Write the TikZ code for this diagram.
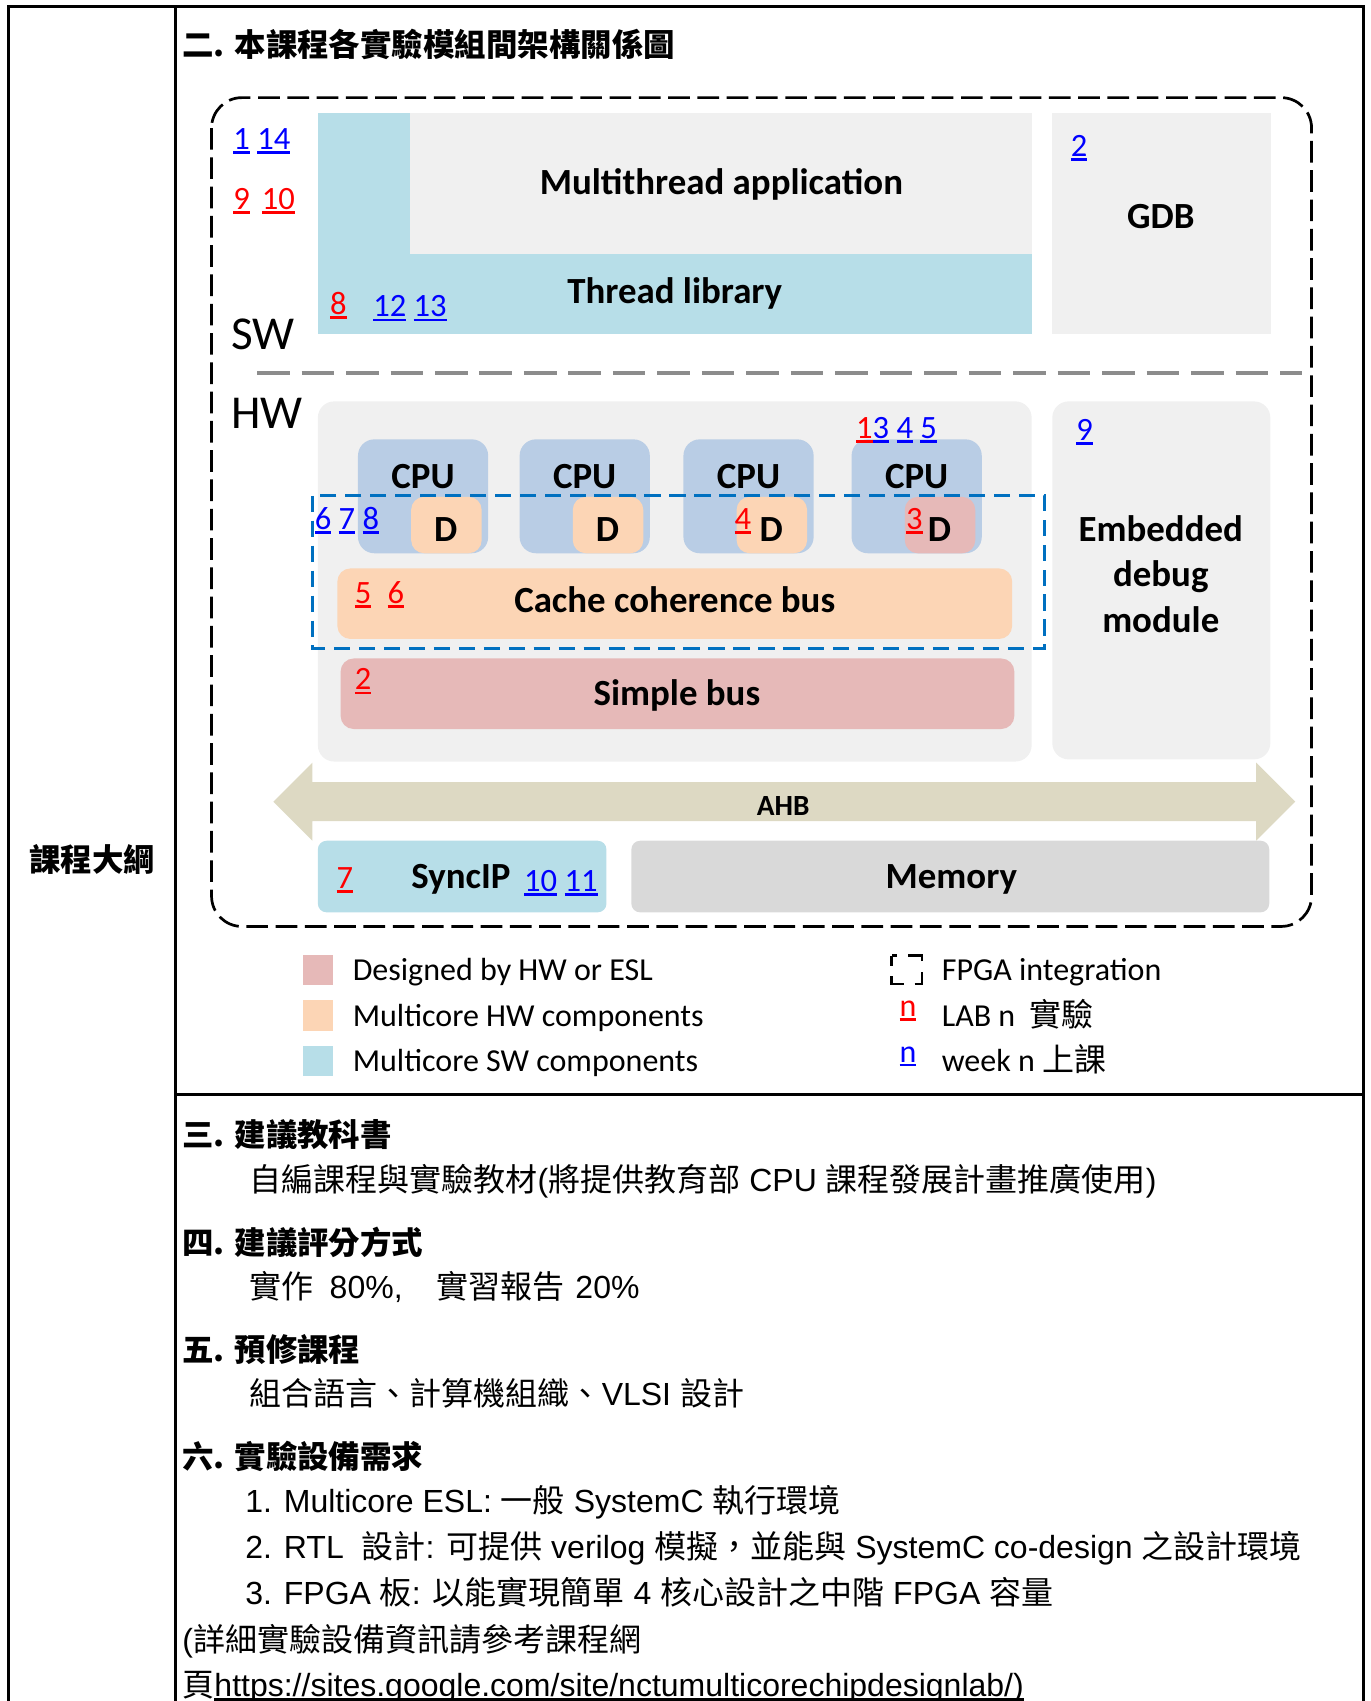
\documentclass[tikz,border=0pt]{standalone}
\usepackage{fontspec}
\setmainfont{Liberation Sans}
\newfontfamily\cali{Carlito}
\newfontfamily\zh{Noto Sans CJK TC}
\usetikzlibrary{positioning}
\definecolor{swcolor}{RGB}{183,222,232}
\definecolor{hwcolor}{RGB}{252,213,181}
\definecolor{eslcolor}{RGB}{230,185,184}
\definecolor{cpucolor}{RGB}{185,205,229}
\definecolor{boxgray}{RGB}{240,240,240}
\definecolor{memgray}{RGB}{217,217,217}
\definecolor{ahbcolor}{RGB}{221,217,195}
\definecolor{fpgablue}{RGB}{0,112,192}
\definecolor{labred}{RGB}{255,0,0}
\definecolor{weekblue}{RGB}{0,0,255}
% underlined text and lab / week numbers
\newcommand\ultext[1]{\setbox0=\hbox{#1}\rlap{\rule[-4pt]{\wd0}{2.4pt}}\box0}
\newcommand\labno[1]{\textcolor{labred}{\ultext{#1}}}
\newcommand\weekno[1]{\textcolor{weekblue}{\ultext{#1}}}
\newcommand\cj[1]{{\zh #1}}

\begin{document}
\begin{tikzpicture}[x=1pt,y=-1pt,
    every node/.style={inner sep=0pt},
    lbl/.style={font=\fontsize{34}{40}\cali\bfseries},
    num/.style={anchor=base west,font=\fontsize{30}{34}\cali},
    leg/.style={anchor=base west,font=\fontsize{29.5}{34}\cali},
    body/.style={anchor=base west,font=\fontsize{29.5}{34}\selectfont},
    head/.style={anchor=base west,font=\fontsize{29}{34}\zh\bfseries}]
  \useasboundingbox (0,0) rectangle (1263,1568);

  % table frame
  \draw[line width=2.5pt] (8,1568) -- (8,6) -- (1257,6) -- (1257,1568);
  \draw[line width=2.5pt] (162,6) -- (162,1568);
  \draw[line width=2.5pt] (162,1009) -- (1257,1009);
  \node[anchor=base west,font=\fontsize{29}{34}\zh\bfseries] (outline) at (27,803) {課程大綱};
  \node[head] (t2) at (168,52) {二. 本課程各實驗模組間架構關係圖};

  % outer frame and SW / HW split
  \draw[line width=2.5pt,dash pattern=on 20pt off 7pt,rounded corners=28pt] (195,90) rectangle (1209,854);
  \draw[line width=3.5pt,dash pattern=on 30pt off 11pt,color=black!45] (237,344) -- (1200,344);
  \node[anchor=base west,font=\fontsize{43.5}{48}\cali] (sw) at (213,322) {SW};
  \node[anchor=base west,font=\fontsize{43.5}{48}\cali] (hw) at (213,395) {HW};

  % SW side
  \fill[swcolor] (293,104) rectangle (951,308);
  \fill[boxgray] (378,104) rectangle (951,234);
  \fill[boxgray] (970,104) rectangle (1172,308);
  \node[lbl,anchor=base] (app) at (665,179) {Multithread application};
  \node[lbl,anchor=base] (thr) at (622,280) {Thread library};
  \node[lbl,anchor=base] (gdb) at (1070,211) {GDB};
  \node[num] (w1) at (215,138) {\weekno{1} \weekno{14}};
  \node[num] (l9) at (215,193) {\labno{9}\hspace{11pt}\labno{10}};
  \node[num] (l8) at (304,290) {\labno{8}};
  \node[num] (w12) at (344,292) {\weekno{12} \weekno{13}};
  \node[num] (w2) at (987,144) {\weekno{2}};

  % HW side
  \fill[boxgray,rounded corners=15pt] (293,370) rectangle (951,702);
  \fill[boxgray,rounded corners=15pt] (970,370) rectangle (1171,700);
  \foreach \x/\dc [count=\i] in {330/hwcolor,479/hwcolor,630/hwcolor,785/eslcolor} {
    \fill[cpucolor,rounded corners=15pt] (\x,405) rectangle ++(120,105);
    \fill[\dc,rounded corners=12pt] (\x+49,458) rectangle ++(65,52);
    \node[lbl,anchor=base] (cpu\i) at (\x+60,450) {CPU};
    \node[lbl,anchor=base] (d\i) at (\x+81,499) {D};
  }
  \fill[hwcolor,rounded corners=12pt] (311,524) rectangle (933,589);
  \fill[eslcolor,rounded corners=12pt] (314,607) rectangle (935,672);
  \node[lbl,anchor=base] (ccb) at (622,565) {Cache coherence bus};
  \node[lbl,anchor=base] (sbus) at (624,650) {Simple bus};
  \foreach \t [count=\i] in {Embedded,debug,module}
    \node[lbl,anchor=base] (edm\i) at (1070,457+42*\i) {\t};

  % FPGA part
  \draw[fpgablue,line width=3pt,dash pattern=on 15pt off 8pt] (288,457) rectangle (963,598);

  \node[num] (w13) at (789,404) {\labno{1}\weekno{3} \weekno{4} \weekno{5}};
  \node[num] (w6) at (290,488) {\weekno{6} \weekno{7} \weekno{8}};
  \node[num] (l4) at (677,488) {\labno{4}};
  \node[num] (l3) at (835,488) {\labno{3}};
  \node[num] (l5) at (327,556) {\labno{5}};
  \node[num] (l6) at (357,556) {\labno{6}};
  \node[num] (l2) at (327,636) {\labno{2}};
  \node[num] (w9) at (992,406) {\weekno{9}};

  % AHB and the blocks below it
  \fill[ahbcolor] (252,739) -- (288,703) -- (288,721) -- (1158,721) -- (1158,703) -- (1194,739)
    -- (1158,775) -- (1158,757) -- (288,757) -- (288,775) -- cycle;
  \node[font=\fontsize{27}{30}\cali\bfseries,anchor=base] (ahb) at (722,752) {AHB};
  \fill[swcolor,rounded corners=8pt] (293,775) rectangle (559,841);
  \fill[memgray,rounded corners=8pt] (582,775) rectangle (1170,841);
  \node[num] (l7) at (310,819) {\labno{7}};
  \node[lbl,anchor=base west] (sync) at (379,819) {SyncIP};
  \node[num] (w10) at (483,822) {\weekno{10} \weekno{11}};
  \node[lbl,anchor=base] (mem) at (877,819) {Memory};

  % legend
  \foreach \c/\t/\y [count=\i] in {eslcolor/Designed by HW or ESL/880,
      hwcolor/Multicore HW components/922,swcolor/Multicore SW components/964} {
    \fill[\c] (279,\y) rectangle ++(28,28);
    \node[leg] (key\i) at (325,\y+24) {\t};
  }
  \draw[line width=2.5pt,dash pattern=on 18pt off 10pt,dash phase=9pt] (822,881) rectangle (850,907);
  \node[leg] (fpga) at (868,904) {FPGA integration};
  \node[leg] (ln) at (829,937) {\labno{n}};
  \node[leg] (lab) at (868,946) {LAB n \ \cj{實驗}};
  \node[leg] (wn) at (829,979) {\weekno{n}};
  \node[leg] (week) at (868,988) {week n \cj{上課}};

  % lower sections
  \node[head] (s3) at (168,1057) {三. 建議教科書};
  \node[body] (b3) at (230,1098) {\cj{自編課程與實驗教材}(\cj{將提供教育部} CPU \cj{課程發展計畫推廣使用})};
  \node[head] (s4) at (168,1156) {四. 建議評分方式};
  \node[body] (b4) at (230,1197) {\cj{實作}\hspace{0.5em}80\%,\hspace{1.05em}\cj{實習報告}\hspace{0.35em}20\%};
  \node[head] (s5) at (168,1255) {五. 預修課程};
  \node[body] (b5) at (230,1296) {\cj{組合語言、計算機組織、}VLSI \cj{設計}};
  \node[head] (s6) at (168,1354) {六. 實驗設備需求};
  \node[body] (b61) at (226,1394) {1. Multicore ESL: \cj{一般} SystemC \cj{執行環境}};
  \node[body] (b62) at (226,1437) {2. RTL \ \cj{設計}: \cj{可提供} verilog \cj{模擬，並能與} SystemC co-design \cj{之設計環境}};
  \node[body] (b63) at (226,1479) {3. FPGA \cj{板}: \cj{以能實現簡單} 4 \cj{核心設計之中階} FPGA \cj{容量}};
  \node[body] (b7) at (168,1522) {(\cj{詳細實驗設備資訊請參考課程網}};
  \node[body] (b8) at (168,1564) {\cj{頁}\ultext{https://sites.google.com/site/nctumulticorechipdesignlab/)}};
\end{tikzpicture}
\end{document}
